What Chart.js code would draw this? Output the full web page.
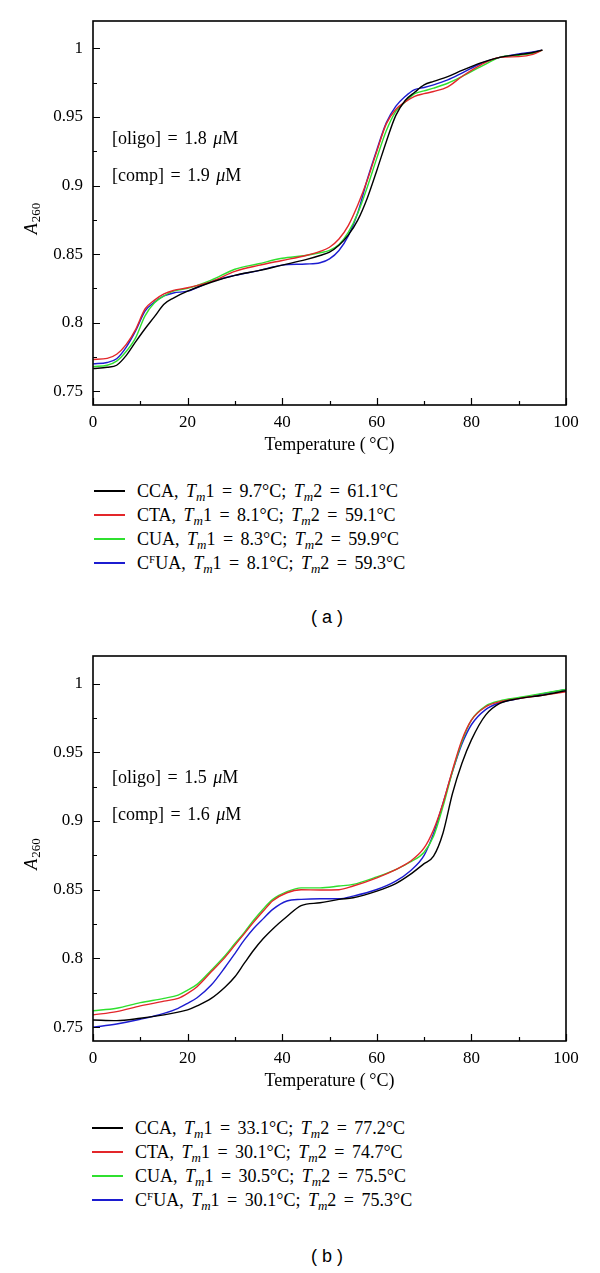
<!DOCTYPE html>
<html>
<head>
<meta charset="utf-8">
<script src="https://cdn.jsdelivr.net/npm/chart.js@4.4.1/dist/chart.umd.min.js"></script>
<style>
	body { margin: 0; background: #fff; width: 600px; height: 1273px; position: relative; overflow: hidden; }
	canvas { position: absolute; left: 0; }
	.note, .legend, .panel-tag { position: absolute; font-family: 'Liberation Serif', serif; font-size: 18px; color: #000; white-space: nowrap; }
	.note { word-spacing: 2px; }
	.note div { height: 37px; line-height: 20px; }
	.note i { font-style: italic; }
	.legend { word-spacing: 3px; }
	.legend .row { height: 24px; line-height: 24px; }
	.legend .swatch { display: inline-block; width: 31px; height: 2px; vertical-align: top; margin-top: 11px; margin-right: 12px; }
	.legend sub { font-size: 13px; font-style: italic; vertical-align: -4px; line-height: 0; }
	.legend sup { font-size: 11px; vertical-align: 6px; line-height: 0; }
	.panel-tag { font-family: 'Liberation Sans', sans-serif; font-size: 18px; width: 600px; text-align: center; left: 27px; }
</style>
</head>
<body>
<canvas id="chart-a" width="600" height="460" style="top:0"></canvas>
<canvas id="chart-b" width="600" height="461" style="top:635px"></canvas>

<div class="note" style="left:112px; top:128px">
	<div>[oligo] = 1.8 <i>μ</i>M</div>
	<div>[comp] = 1.9 <i>μ</i>M</div>
</div>
<div class="note" style="left:112px; top:767px">
	<div>[oligo] = 1.5 <i>μ</i>M</div>
	<div>[comp] = 1.6 <i>μ</i>M</div>
</div>

<div class="legend" id="legend-a" style="left:94px; top:479px"></div>
<div class="legend" id="legend-b" style="left:92px; top:1116px"></div>

<div class="panel-tag" style="top:607px">( a )</div>
<div class="panel-tag" style="top:1246px">( b )</div>

<script>
	/** 공통 데이터 **/
	const seriesNames = ['CCA', 'CTA', 'CUA', 'C<sup>F</sup>UA'];
	const seriesColors = ['#000000', '#e3262a', '#2fe02f', '#1c1cd0'];
	const xTickValues = [0, 20, 40, 60, 80, 100];
	const xMinorValues = [10, 30, 50, 70, 90];
	const yTickValues = [0.75, 0.8, 0.85, 0.9, 0.95, 1];
	const yMinorValues = [0.775, 0.825, 0.875, 0.925, 0.975];

	/** (a) 패널 **/
	const tempA = [0, 3, 5, 7, 9, 11, 13, 15, 17, 20, 25, 30, 35, 40, 45, 48, 50, 52, 54, 56, 58, 60, 62, 64, 66, 68, 70, 72, 75, 78, 82, 86, 90, 93, 95];
	const ccaA = [0.7666, 0.7675, 0.769, 0.776, 0.786, 0.7956, 0.8044, 0.8135, 0.818, 0.823, 0.8295, 0.8345, 0.838, 0.842, 0.846, 0.849, 0.8515, 0.8565, 0.864, 0.875, 0.891, 0.911, 0.932, 0.951, 0.962, 0.968, 0.9734, 0.976, 0.9795, 0.984, 0.9895, 0.9935, 0.9955, 0.997, 0.9988];
	const ctaA = [0.7732, 0.774, 0.777, 0.784, 0.795, 0.81, 0.8165, 0.821, 0.8235, 0.8255, 0.83, 0.8374, 0.8418, 0.8454, 0.849, 0.852, 0.855, 0.861, 0.871, 0.886, 0.904, 0.925, 0.945, 0.9555, 0.961, 0.965, 0.967, 0.9686, 0.972, 0.9795, 0.988, 0.9935, 0.994, 0.9957, 0.9988];
	const cuaA = [0.768, 0.769, 0.772, 0.779, 0.789, 0.805, 0.8145, 0.8195, 0.823, 0.825, 0.831, 0.839, 0.843, 0.847, 0.849, 0.851, 0.8527, 0.857, 0.866, 0.88, 0.899, 0.92, 0.94, 0.954, 0.961, 0.967, 0.969, 0.971, 0.9746, 0.9795, 0.9867, 0.9935, 0.995, 0.9965, 0.9988];
	const cfuaA = [0.77, 0.771, 0.7737, 0.782, 0.794, 0.8085, 0.815, 0.8195, 0.8217, 0.823, 0.83, 0.8345, 0.838, 0.842, 0.8428, 0.8437, 0.8466, 0.8527, 0.8635, 0.8804, 0.9046, 0.926, 0.9457, 0.9577, 0.965, 0.97, 0.9715, 0.9734, 0.977, 0.982, 0.989, 0.9935, 0.996, 0.9975, 0.9988];
	const tm1A = ['9.7', '8.1', '8.3', '8.1'];
	const tm2A = ['61.1', '59.1', '59.9', '59.3'];

	/** (b) 패널 **/
	const tempB = [0, 5, 10, 15, 18, 20, 22, 25, 28, 30, 32, 34, 36, 38, 41, 44, 48, 52, 55, 60, 64, 67, 70, 72, 74, 76, 78, 80, 83, 86, 90, 95, 100];
	const ccaB = [0.7553, 0.7548, 0.7565, 0.759, 0.761, 0.7626, 0.7655, 0.771, 0.7795, 0.7867, 0.7966, 0.8062, 0.8145, 0.8215, 0.8305, 0.8385, 0.8405, 0.843, 0.8442, 0.849, 0.8545, 0.861, 0.869, 0.8744, 0.8913, 0.92, 0.942, 0.959, 0.977, 0.9855, 0.989, 0.9915, 0.9947];
	const ctaB = [0.759, 0.7614, 0.7655, 0.769, 0.771, 0.7746, 0.7795, 0.7903, 0.8012, 0.8097, 0.8181, 0.8266, 0.8345, 0.842, 0.8478, 0.85, 0.8498, 0.85, 0.8527, 0.8587, 0.8647, 0.8705, 0.8804, 0.8937, 0.913, 0.937, 0.959, 0.9734, 0.983, 0.9867, 0.989, 0.9915, 0.994];
	const cuaB = [0.762, 0.7638, 0.7679, 0.771, 0.7734, 0.777, 0.7812, 0.7915, 0.8024, 0.8109, 0.819, 0.828, 0.836, 0.843, 0.8486, 0.8514, 0.8514, 0.8527, 0.8539, 0.8594, 0.8647, 0.87, 0.8773, 0.8889, 0.9106, 0.936, 0.9577, 0.9734, 0.9836, 0.9874, 0.9898, 0.9928, 0.9957];
	const cfuaB = [0.75, 0.7524, 0.7558, 0.7601, 0.7638, 0.7674, 0.7715, 0.7807, 0.794, 0.8036, 0.8135, 0.822, 0.829, 0.8357, 0.8418, 0.843, 0.8435, 0.8435, 0.8454, 0.8502, 0.8563, 0.8635, 0.875, 0.891, 0.913, 0.936, 0.956, 0.97, 0.981, 0.986, 0.989, 0.9925, 0.9957];
	const tm1B = ['33.1', '30.1', '30.5', '30.1'];
	const tm2B = ['77.2', '74.7', '75.5', '75.3'];

	const serif = 'Liberation Serif';

	/** 안쪽 눈금 + 테두리 + y축 제목 **/
	const frame = {
		id: 'frame',
		afterDraw(chart) {
			const ctx = chart.ctx;
			const area = chart.chartArea;
			const sx = chart.scales.x, sy = chart.scales.y;
			ctx.save();
			ctx.strokeStyle = '#000';
			ctx.lineWidth = 1.2;
			ctx.beginPath();
			xTickValues.concat(xMinorValues).forEach(function(v) {
				let px = Math.round(sx.getPixelForValue(v)) + 0.5;
				let len = xMinorValues.indexOf(v) >= 0 ? 4 : 7;
				ctx.moveTo(px, area.bottom);
				ctx.lineTo(px, area.bottom - len);
			});
			yTickValues.concat(yMinorValues).forEach(function(v) {
				let py = Math.round(sy.getPixelForValue(v)) + 0.5;
				let len = yMinorValues.indexOf(v) >= 0 ? 4 : 7;
				ctx.moveTo(area.left, py);
				ctx.lineTo(area.left + len, py);
			});
			ctx.stroke();
			ctx.lineWidth = 1.6;
			ctx.strokeRect(area.left, area.top, area.right - area.left, area.bottom - area.top);

			// y축 제목 A260
			ctx.translate(32, (area.top + area.bottom) / 2 + 6);
			ctx.rotate(-Math.PI / 2);
			ctx.fillStyle = '#000';
			ctx.textBaseline = 'middle';
			ctx.font = 'italic 18px "' + serif + '"';
			let wA = ctx.measureText('A').width;
			ctx.font = '13px "' + serif + '"';
			let wSub = ctx.measureText('260').width;
			let start = -(wA + wSub) / 2;
			ctx.font = 'italic 18px "' + serif + '"';
			ctx.fillText('A', start, 0);
			ctx.font = '13px "' + serif + '"';
			ctx.fillText('260', start + wA + 1, 5);
			ctx.restore();
		}
	};

	function makeDatasets(temps, series) {
		return series.map(function(vals, i) {
			return {
				label: seriesNames[i],
				data: temps.map(function(t, j) { return {x: t, y: vals[j]}; }),
				borderColor: seriesColors[i],
				backgroundColor: seriesColors[i],
				borderWidth: 1.4,
				pointRadius: 0,
				cubicInterpolationMode: 'monotone',
				fill: false
			};
		});
	}

	function makeOptions() {
		return {
			responsive: false,
			animation: false,
			layout: {padding: {top: 21, right: 34, bottom: 0, left: 0}},
			plugins: {legend: {display: false}, tooltip: {enabled: false}},
			scales: {
				x: {
					type: 'linear', min: 0, max: 100,
					grid: {display: false, drawTicks: false},
					border: {display: false},
					afterBuildTicks: function(scale) { scale.ticks = xTickValues.map(function(v) { return {value: v}; }); },
					afterFit: function(scale) { scale.height = 55; },
					ticks: {padding: 7, color: '#000', maxRotation: 0, font: {family: serif, size: 17}},
					title: {display: true, text: 'Temperature (\u2009°C)', color: '#000', padding: {top: 0, bottom: 4}, font: {family: serif, size: 18}}
				},
				y: {
					min: 0.74, max: 1.02,
					grid: {display: false, drawTicks: false},
					border: {display: false},
					afterBuildTicks: function(scale) { scale.ticks = yTickValues.map(function(v) { return {value: v}; }); },
					afterFit: function(scale) { scale.width = 93; },
					ticks: {
						padding: 10, color: '#000', font: {family: serif, size: 17},
						callback: function(value) { return String(+value.toFixed(3)); }
					}
				}
			}
		};
	}

	let chartA = new Chart(document.getElementById('chart-a'), {
		type: 'line',
		data: {datasets: makeDatasets(tempA, [ccaA, ctaA, cuaA, cfuaA])},
		options: makeOptions(),
		plugins: [frame]
	});

	let chartB = new Chart(document.getElementById('chart-b'), {
		type: 'line',
		data: {datasets: makeDatasets(tempB, [ccaB, ctaB, cuaB, cfuaB])},
		options: makeOptions(),
		plugins: [frame]
	});

	/** 범례 **/
	function fillLegend(id, tm1, tm2) {
		let html = '';
		seriesNames.forEach(function(name, i) {
			html += '<div class="row"><span class="swatch" style="background:' + seriesColors[i] + '"></span>' +
				name + ', <i>T</i><sub>m</sub>1 = ' + tm1[i] + '°C; <i>T</i><sub>m</sub>2 = ' + tm2[i] + '°C</div>';
		});
		document.getElementById(id).innerHTML = html;
	}
	fillLegend('legend-a', tm1A, tm2A);
	fillLegend('legend-b', tm1B, tm2B);
</script>
</body>
</html>
